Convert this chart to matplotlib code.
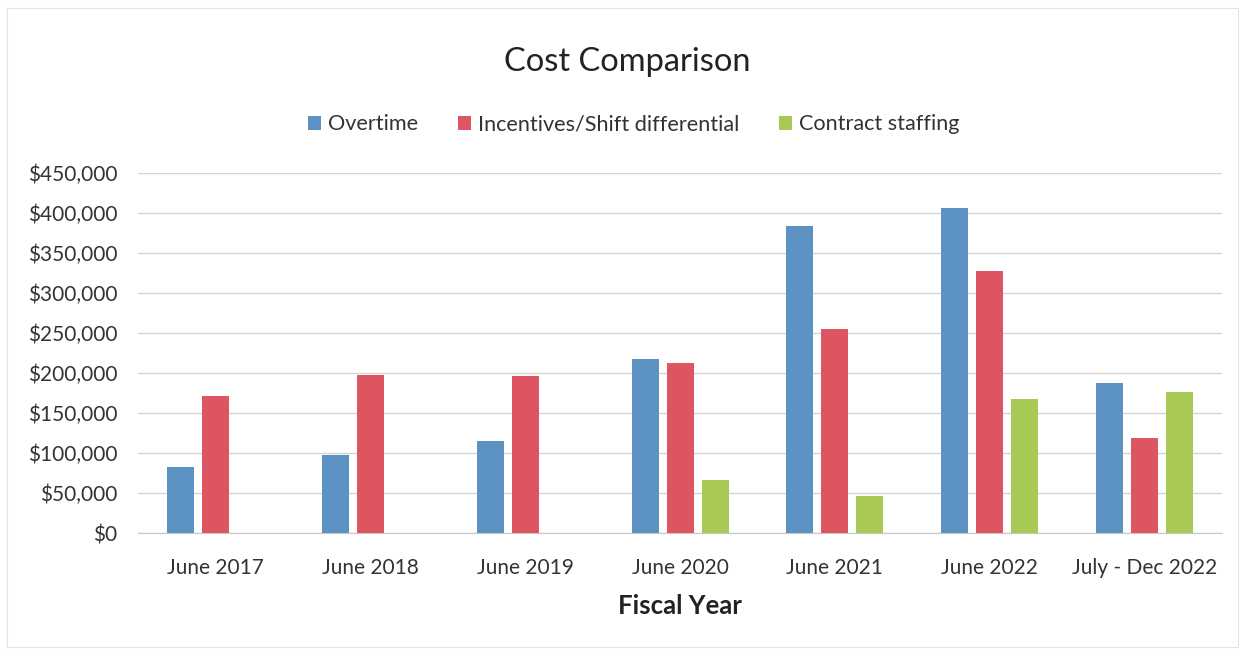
import matplotlib.pyplot as plt
import numpy as np
from matplotlib.patches import Rectangle

# Chart data
categories = ["June 2017", "June 2018", "June 2019", "June 2020",
              "June 2021", "June 2022", "July - Dec 2022"]
overtime = [82500, 97000, 115000, 217000, 384000, 406000, 188000]
incentives = [171500, 197500, 196000, 212000, 255000, 327500, 119000]
contract = [0, 0, 0, 66000, 46000, 167000, 176000]
series_names = ["Overtime", "Incentives/Shift differential", "Contract staffing"]
y_ticks = [0, 50000, 100000, 150000, 200000, 250000, 300000, 350000, 400000, 450000]

plt.rcParams['font.family'] = ['Lato', 'DejaVu Sans']

fig = plt.figure(figsize=(12.45, 6.54), dpi=100)
ax = fig.add_axes([0.111, 0.185, 0.8705, 0.5505])

colors = ['#5b92c2', '#dc5560', '#a9c955']
x = np.arange(len(categories))
width = 0.175
step = 0.226

for i, (vals, name) in enumerate(zip([overtime, incentives, contract], series_names)):
    ax.bar(x + (i - 1) * step, vals, width, color=colors[i], label=name, zorder=3)

ax.set_xlim(-0.5, len(categories) - 0.5)
ax.set_ylim(0, 450000)
ax.set_yticks(y_ticks)
ax.set_yticklabels([f"${v:,.0f}" for v in y_ticks])
ax.set_xticks(x)
ax.set_xticklabels(categories)
ax.tick_params(axis='both', length=0, labelsize=15, colors='#333333')
ax.tick_params(axis='y', pad=15)
ax.tick_params(axis='x', pad=18)
ax.grid(axis='y', color='#d4d4d4', linewidth=1, zorder=0)

for side in ['top', 'right', 'left']:
    ax.spines[side].set_visible(False)
ax.spines['bottom'].set_color('#c8c8c8')

ax.set_xlabel("Fiscal Year", fontsize=18.5, fontweight='bold', color='#222222', va='center')
ax.xaxis.set_label_coords(0.5, -0.203)

fig.text(0.5035, 0.905, "Cost Comparison", ha='center', va='center', fontsize=23.5, color='#222222')

leg = fig.legend(loc='center', bbox_to_anchor=(0.509, 0.81), ncol=3, frameon=False,
                 fontsize=15.6, handlelength=0.6, handleheight=0.6, handletextpad=0.3,
                 columnspacing=1.85)
for t in leg.get_texts():
    t.set_color('#333333')

# faint scan border
fig.patches.append(Rectangle((0.006, 0.01), 0.988, 0.978, transform=fig.transFigure,
                             fill=False, edgecolor='#e4e4e4', linewidth=0.8))

plt.savefig("out.png", dpi=100)
